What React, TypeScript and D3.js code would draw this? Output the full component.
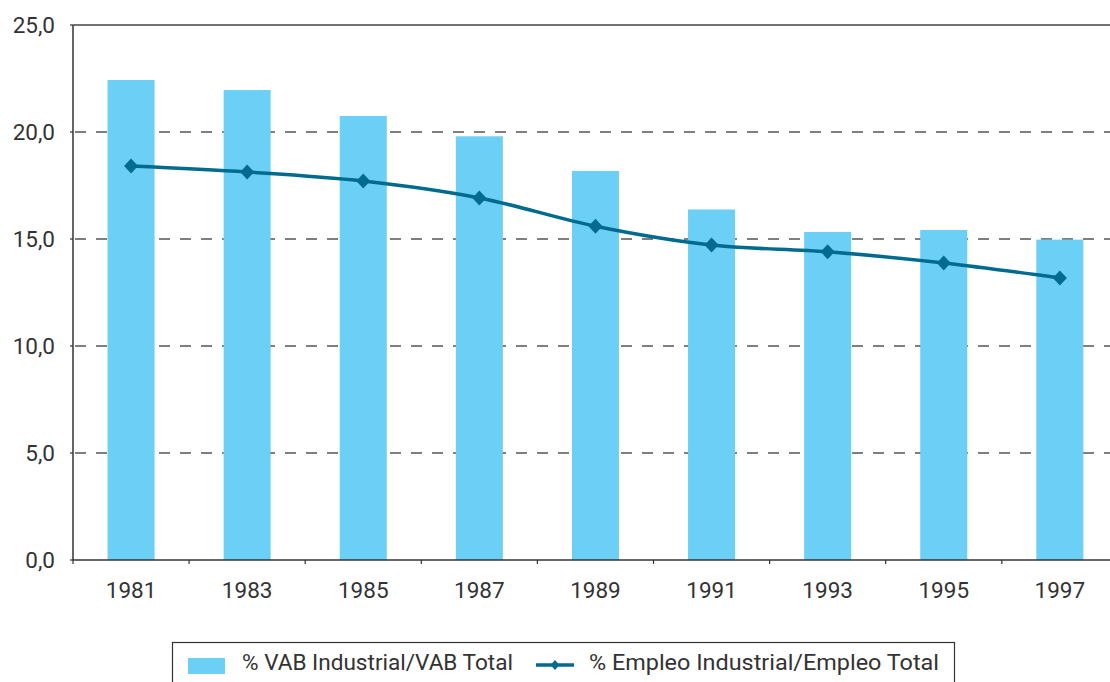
import React from "react";
import * as d3 from "d3";

const years = ["1981", "1983", "1985", "1987", "1989", "1991", "1993", "1995", "1997"];
const vabShare = [22.43, 21.96, 20.75, 19.8, 18.18, 16.38, 15.33, 15.42, 14.97];
const empleoShare = [18.41, 18.13, 17.71, 16.92, 15.6, 14.72, 14.4, 13.88, 13.18];
const yTicks = [0, 5, 10, 15, 20, 25];
const legendLabels = ["% VAB Industrial/VAB Total", "% Empleo Industrial/Empleo Total"];

const W = 1110;
const H = 682;
const left = 73;
const step = 116.1;
const top = 25;
const bottom = 560;
const barColor = "#6bcff6";
const lineColor = "#006b8f";
const font = "Roboto, 'DejaVu Sans', sans-serif";

export default function App() {
  const x = d3
    .scaleBand<string>()
    .domain(years)
    .range([left, left + step * years.length])
    .paddingInner(0.595)
    .paddingOuter(0.2975);
  const y = d3.scaleLinear().domain([0, 25]).range([bottom, top]);
  const cx = (d: string) => (x(d) as number) + x.bandwidth() / 2;

  const line = d3
    .line<number>()
    .x((_, i) => cx(years[i]))
    .y((v) => y(v))
    .curve(d3.curveCatmullRom.alpha(0.5));

  const diamond = (px: number, py: number, hw = 7, hh = 7.5) =>
    `M${px},${py - hh}L${px + hw},${py}L${px},${py + hh}L${px - hw},${py}Z`;

  const fmt = (v: number) => v.toFixed(1).replace(".", ",");
  const boundaries = d3.range(years.length + 1).map((i) => left + i * step);

  return (
    <svg
      width={W}
      height={H}
      style={{ position: "absolute", left: 0, top: 0, overflow: "hidden", background: "#fff" }}
    >
      {yTicks
        .filter((t) => t > 0 && t < 25)
        .map((t) => (
          <line
            key={t}
            x1={left}
            x2={W + 20}
            y1={y(t)}
            y2={y(t)}
            stroke="#555"
            strokeWidth={1.6}
            strokeDasharray="11,10"
            strokeDashoffset={-2}
          />
        ))}
      <line x1={left} x2={W + 20} y1={y(25)} y2={y(25)} stroke="#444" strokeWidth={1.5} />
      {years.map((yr, i) => (
        <rect
          key={yr}
          x={x(yr)}
          y={y(vabShare[i])}
          width={x.bandwidth()}
          height={bottom - y(vabShare[i])}
          fill={barColor}
        />
      ))}
      <line x1={left} x2={left} y1={top} y2={bottom} stroke="#333" strokeWidth={1.5} />
      <line x1={left} x2={W + 20} y1={bottom} y2={bottom} stroke="#333" strokeWidth={1.5} />
      {yTicks.map((t) => (
        <line key={"yt" + t} x1={left - 3} x2={left} y1={y(t)} y2={y(t)} stroke="#333" strokeWidth={1.2} />
      ))}
      {boundaries.map((b, i) => (
        <line key={"xt" + i} x1={b} x2={b} y1={bottom} y2={bottom + 4} stroke="#333" strokeWidth={1.2} />
      ))}
      {yTicks.map((t) => (
        <text
          key={"yl" + t}
          x={55}
          y={y(t) + 8}
          textAnchor="end"
          fontFamily={font}
          fontSize={22.5}
          fill="#333"
        >
          {fmt(t)}
        </text>
      ))}
      {years.map((yr) => (
        <text
          key={"xl" + yr}
          x={cx(yr)}
          y={598}
          textAnchor="middle"
          fontFamily={font}
          fontSize={22.5}
          fill="#333"
        >
          {yr}
        </text>
      ))}
      <path d={line(empleoShare) || ""} fill="none" stroke={lineColor} strokeWidth={3.5} />
      {years.map((yr, i) => (
        <path key={"m" + yr} d={diamond(cx(yr), y(empleoShare[i]))} fill={lineColor} />
      ))}
      <rect x={172.5} y={642.5} width={782} height={60} fill="#fff" stroke="#333" strokeWidth={1.2} />
      <rect x={188} y={658} width={37} height={16} fill={barColor} />
      <text
        x={242}
        y={670}
        fontFamily={font}
        fontSize={22}
        fill="#333"
        textLength={271}
        lengthAdjust="spacingAndGlyphs"
      >
        {legendLabels[0]}
      </text>
      <line x1={536} x2={574} y1={665} y2={665} stroke={lineColor} strokeWidth={3.5} />
      <path d={diamond(555, 665, 4.5, 5)} fill={lineColor} />
      <text
        x={589}
        y={670}
        fontFamily={font}
        fontSize={22}
        fill="#333"
        textLength={350}
        lengthAdjust="spacingAndGlyphs"
      >
        {legendLabels[1]}
      </text>
    </svg>
  );
}
